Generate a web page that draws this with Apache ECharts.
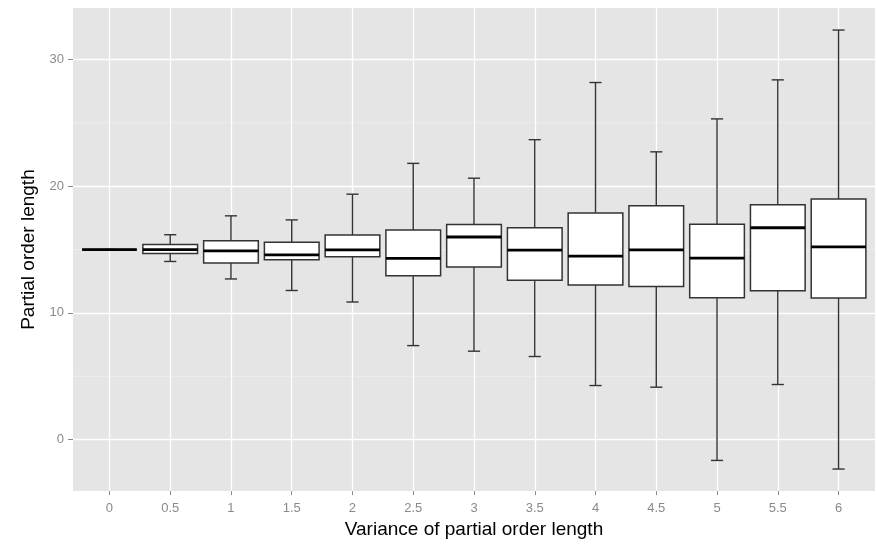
<!DOCTYPE html>
<html><head><meta charset="utf-8">
<script src="https://cdn.jsdelivr.net/npm/echarts@6/dist/echarts.min.js"></script>
<style>html,body{margin:0;padding:0;background:#fff}#c{width:876px;height:544px}</style>
</head><body><div id="c"></div>
<script>
const categories = ['0','0.5','1','1.5','2','2.5','3','3.5','4','4.5','5','5.5','6'];
const lowerWhisker = [15, 14.06, 12.68, 11.77, 10.86, 7.42, 6.98, 6.56, 4.27, 4.14, -1.64, 4.35, -2.32];
const q1 = [15, 14.69, 13.93, 14.19, 14.43, 12.94, 13.62, 12.58, 12.21, 12.08, 11.2, 11.74, 11.17];
const median = [15, 15.0, 14.9, 14.58, 14.97, 14.3, 15.99, 14.95, 14.48, 14.97, 14.32, 16.72, 15.21];
const q3 = [15, 15.39, 15.7, 15.57, 16.15, 16.54, 16.98, 16.72, 17.89, 18.46, 17.0, 18.54, 18.98];
const upperWhisker = [15, 16.17, 17.66, 17.34, 19.37, 21.8, 20.63, 23.67, 28.18, 22.71, 25.31, 28.39, 32.32];
const yTicks = [0, 10, 20, 30];
const yMinor = [5, 15, 25];

const xIdx = categories.map((c, i) => i);
const boxData = categories.map((c, i) => [i, lowerWhisker[i], q1[i], median[i], q3[i], upperWhisker[i]]);
const FONT = 'Liberation Sans, Arial, sans-serif';
const TICKC = '#8a8a8a';

const chart = echarts.init(document.getElementById('c'), null, {renderer: 'canvas'});
chart.setOption({
  animation: false,
  backgroundColor: '#ffffff',
  grid: {left: 73, right: 1, top: 8, bottom: 48, show: true, backgroundColor: '#E5E5E5', borderWidth: 0},
  xAxis: {
    type: 'value', min: -0.6, max: 12.6, position: 'bottom',
    name: 'Variance of partial order length', nameLocation: 'middle', nameGap: 28,
    nameTextStyle: {fontFamily: FONT, fontSize: 19, color: '#000'},
    axisLine: {show: false, onZero: false},
    axisTick: {show: true, customValues: xIdx, length: 4, lineStyle: {color: TICKC, width: 1}},
    axisLabel: {customValues: xIdx, margin: 11, color: TICKC, fontFamily: FONT, fontSize: 13,
      formatter: v => categories[Math.round(v)]},
    splitLine: {show: true, lineStyle: {color: '#ffffff', width: 1.3}}
  },
  yAxis: {
    type: 'value', min: -4.06, max: 34.06, position: 'left',
    name: 'Partial order length', nameLocation: 'middle', nameRotate: 90, nameGap: 29,
    nameTextStyle: {fontFamily: FONT, fontSize: 19, color: '#000'},
    axisLine: {show: false, onZero: false},
    axisTick: {show: true, customValues: yTicks, length: 5, lineStyle: {color: TICKC, width: 1}},
    axisLabel: {customValues: yTicks, margin: 9, color: TICKC, fontFamily: FONT, fontSize: 13},
    splitLine: {show: true, lineStyle: {color: '#ffffff', width: 1.3}}
  },
  series: [
    {
      type: 'custom', z: 1, silent: true,
      data: yMinor.map(v => [0, v]),
      encode: {x: 0, y: 1},
      renderItem(params, api) {
        const cs = params.coordSys;
        const y = api.coord([0, api.value(1)])[1];
        return {type: 'line', shape: {x1: cs.x, y1: y, x2: cs.x + cs.width, y2: y},
          style: {stroke: '#F2F2F2', lineWidth: 0.7}};
      }
    },
    {
      type: 'custom', z: 2, silent: true,
      data: boxData,
      encode: {x: 0, y: [1, 2, 3, 4, 5]},
      renderItem(params, api) {
        const i = api.value(0);
        const unit = api.size([1, 0])[0];
        const half = unit * 0.45;
        const cap = unit * 0.1;
        const pL = api.coord([i, api.value(1)]);
        const p1 = api.coord([i, api.value(2)]);
        const pM = api.coord([i, api.value(3)]);
        const p3 = api.coord([i, api.value(4)]);
        const pH = api.coord([i, api.value(5)]);
        const cx = pM[0];
        const stroke = '#333333';
        const ls = {stroke: stroke, lineWidth: 1.4};
        return {type: 'group', children: [
          {type: 'line', shape: {x1: cx, y1: pH[1], x2: cx, y2: pL[1]}, style: ls},
          {type: 'line', shape: {x1: cx - cap, y1: pH[1], x2: cx + cap, y2: pH[1]}, style: ls},
          {type: 'line', shape: {x1: cx - cap, y1: pL[1], x2: cx + cap, y2: pL[1]}, style: ls},
          {type: 'rect', shape: {x: cx - half, y: p3[1], width: 2 * half, height: p1[1] - p3[1]},
            style: {fill: '#ffffff', stroke: stroke, lineWidth: 1.5}},
          {type: 'line', shape: {x1: cx - half, y1: pM[1], x2: cx + half, y2: pM[1]},
            style: {stroke: '#000000', lineWidth: 2.8}}
        ]};
      }
    }
  ]
});
</script></body></html>
